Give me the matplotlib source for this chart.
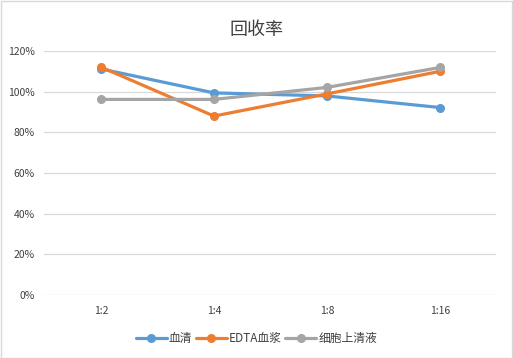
import matplotlib
matplotlib.use("Agg")
import matplotlib.pyplot as plt
from matplotlib.ticker import FuncFormatter

plt.rcParams['font.family'] = ['Noto Sans CJK SC', 'DejaVu Sans']

categories = ["1:2", "1:4", "1:8", "1:16"]
serum = [111.2, 99.4, 97.9, 92.2]
edta = [112.1, 88.0, 98.9, 110.0]
supernatant = [96.2, 96.2, 102.1, 111.9]
series_names = ["血清", "EDTA血浆", "细胞上清液"]
colors = ["#5B9BD5", "#ED7D31", "#A5A5A5"]

fig = plt.figure(figsize=(5.13, 3.58), dpi=100)
ax = fig.add_axes([0.0867, 0.176, 0.881, 0.6815])

x = range(len(categories))
for vals, name, c in zip([serum, edta, supernatant], series_names, colors):
    ax.plot(x, vals, color=c, lw=2.3, marker='o', ms=5.5, label=name, solid_capstyle='round')

ax.set_xlim(-0.5, len(categories) - 0.5)
ax.set_ylim(0, 120)
ax.set_yticks(range(0, 121, 20))
ax.yaxis.set_major_formatter(FuncFormatter(lambda v, p: f"{int(v)}%"))
ax.set_xticks(list(x))
ax.set_xticklabels(categories)
ax.grid(axis='y', color='#D9D9D9', lw=0.9)
ax.set_axisbelow(True)
for s in ax.spines.values():
    s.set_visible(False)
ax.tick_params(length=0, labelsize=7.5, colors='#404040')
ax.tick_params(axis='x', pad=8)
ax.tick_params(axis='y', pad=7)

fig.text(0.5, 0.915, "回收率", ha='center', va='center', fontsize=13, color='#404040')
leg = fig.legend(loc='center', bbox_to_anchor=(0.5, 0.055), ncol=3, frameon=False,
                 fontsize=8.5, handlelength=2.6, columnspacing=0.3, handletextpad=0.2,
                 labelcolor='#404040')

fig.patches.append(plt.Rectangle((0.001, 0.001), 0.997, 0.996, transform=fig.transFigure,
                                 fill=False, edgecolor='#D9D9D9', lw=1))
fig.savefig("out.png", dpi=100)
